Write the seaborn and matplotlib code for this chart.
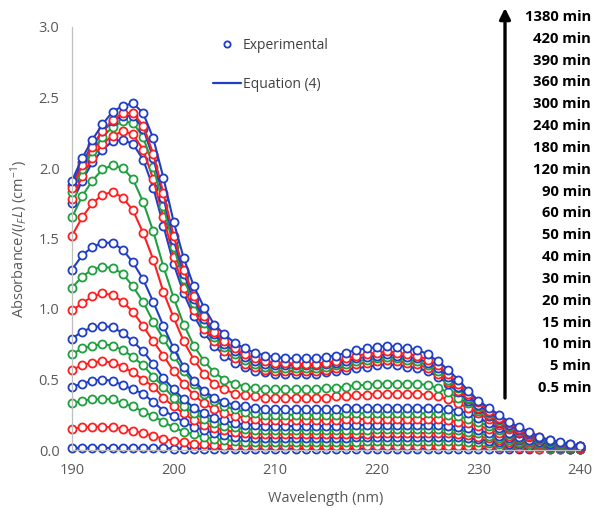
import numpy as np
import pandas as pd
import matplotlib
matplotlib.use("Agg")
import matplotlib.pyplot as plt
from matplotlib.lines import Line2D
import seaborn as sns

# ---------------- data ----------------
WAVELENGTH = np.arange(190, 241)  # nm, 1 nm steps

A_1380 = [1.91, 2.07, 2.20, 2.31, 2.40, 2.44, 2.46, 2.39, 2.21, 1.93,
          1.62, 1.36, 1.16, 1.01, 0.89, 0.82, 0.76, 0.72, 0.69, 0.67,
          0.66, 0.65, 0.65, 0.65, 0.65, 0.66, 0.67, 0.69, 0.71, 0.72,
          0.73, 0.74, 0.73, 0.72, 0.71, 0.68, 0.63, 0.57, 0.50, 0.42,
          0.35, 0.30, 0.25, 0.20, 0.16, 0.13, 0.095, 0.07, 0.055, 0.04,
          0.03]
A_420 = [1.86, 2.02, 2.15, 2.26, 2.34, 2.39, 2.39, 2.30, 2.10, 1.82,
         1.52, 1.28, 1.09, 0.95, 0.84, 0.77, 0.72, 0.68, 0.65, 0.63,
         0.62, 0.62, 0.61, 0.61, 0.61, 0.62, 0.63, 0.65, 0.67, 0.68,
         0.69, 0.70, 0.69, 0.68, 0.67, 0.64, 0.60, 0.54, 0.47, 0.40,
         0.34, 0.28, 0.23, 0.19, 0.15, 0.12, 0.09, 0.07, 0.05, 0.04,
         0.03]
A_390 = [1.88, 2.04, 2.16, 2.26, 2.33, 2.37, 2.37, 2.28, 2.07, 1.79,
         1.49, 1.25, 1.07, 0.93, 0.82, 0.75, 0.70, 0.66, 0.63, 0.61,
         0.60, 0.60, 0.60, 0.60, 0.60, 0.61, 0.62, 0.63, 0.65, 0.66,
         0.67, 0.68, 0.67, 0.66, 0.65, 0.62, 0.58, 0.52, 0.45, 0.38,
         0.32, 0.27, 0.22, 0.18, 0.14, 0.11, 0.085, 0.065, 0.05, 0.035,
         0.025]
A_360 = [1.83, 1.99, 2.12, 2.22, 2.29, 2.33, 2.32, 2.22, 2.01, 1.73,
         1.44, 1.21, 1.04, 0.90, 0.80, 0.73, 0.68, 0.64, 0.61, 0.59,
         0.58, 0.58, 0.58, 0.58, 0.58, 0.59, 0.60, 0.61, 0.63, 0.64,
         0.65, 0.66, 0.65, 0.64, 0.63, 0.60, 0.56, 0.50, 0.44, 0.37,
         0.31, 0.26, 0.21, 0.17, 0.14, 0.11, 0.08, 0.06, 0.045, 0.035,
         0.025]
A_300 = [1.78, 1.94, 2.07, 2.17, 2.23, 2.26, 2.24, 2.13, 1.92, 1.65,
         1.37, 1.15, 0.99, 0.86, 0.77, 0.70, 0.65, 0.61, 0.59, 0.57,
         0.56, 0.56, 0.56, 0.56, 0.56, 0.57, 0.58, 0.59, 0.61, 0.62,
         0.63, 0.64, 0.63, 0.62, 0.61, 0.58, 0.54, 0.48, 0.42, 0.36,
         0.30, 0.25, 0.20, 0.16, 0.13, 0.10, 0.08, 0.06, 0.045, 0.03,
         0.02]
A_240 = [1.75, 1.91, 2.04, 2.13, 2.19, 2.20, 2.17, 2.06, 1.86, 1.59,
         1.32, 1.11, 0.95, 0.83, 0.74, 0.67, 0.62, 0.59, 0.56, 0.55,
         0.54, 0.54, 0.54, 0.54, 0.54, 0.55, 0.56, 0.57, 0.58, 0.59,
         0.60, 0.61, 0.60, 0.59, 0.58, 0.56, 0.52, 0.47, 0.41, 0.35,
         0.29, 0.24, 0.19, 0.16, 0.12, 0.10, 0.075, 0.055, 0.04, 0.03,
         0.02]
A_180 = [1.65, 1.80, 1.91, 1.99, 2.02, 2.00, 1.92, 1.76, 1.55, 1.30,
         1.08, 0.89, 0.74, 0.63, 0.55, 0.50, 0.47, 0.45, 0.44, 0.43,
         0.43, 0.43, 0.43, 0.43, 0.43, 0.44, 0.44, 0.45, 0.46, 0.46,
         0.47, 0.47, 0.47, 0.47, 0.47, 0.46, 0.44, 0.41, 0.37, 0.33,
         0.28, 0.24, 0.20, 0.16, 0.13, 0.10, 0.08, 0.06, 0.045, 0.035,
         0.025]
A_120 = [1.52, 1.65, 1.75, 1.81, 1.83, 1.79, 1.70, 1.54, 1.35, 1.12,
         0.94, 0.77, 0.64, 0.54, 0.47, 0.43, 0.40, 0.39, 0.38, 0.37,
         0.37, 0.37, 0.37, 0.37, 0.37, 0.37, 0.38, 0.38, 0.39, 0.39,
         0.40, 0.40, 0.40, 0.40, 0.40, 0.39, 0.38, 0.36, 0.33, 0.30,
         0.26, 0.22, 0.18, 0.15, 0.12, 0.09, 0.07, 0.055, 0.04, 0.03,
         0.02]
A_90 = [1.28, 1.38, 1.44, 1.47, 1.47, 1.42, 1.33, 1.21, 1.05, 0.88,
        0.72, 0.59, 0.49, 0.42, 0.37, 0.34, 0.32, 0.31, 0.30, 0.29,
        0.29, 0.29, 0.29, 0.29, 0.29, 0.29, 0.29, 0.30, 0.30, 0.30,
        0.30, 0.30, 0.30, 0.30, 0.30, 0.30, 0.30, 0.29, 0.28, 0.26,
        0.23, 0.19, 0.155, 0.12, 0.095, 0.07, 0.055, 0.045, 0.035, 0.025,
        0.02]
A_60 = [1.15, 1.23, 1.28, 1.30, 1.29, 1.25, 1.16, 1.05, 0.91, 0.79,
        0.67, 0.56, 0.47, 0.40, 0.35, 0.31, 0.29, 0.27, 0.26, 0.25,
        0.25, 0.25, 0.25, 0.25, 0.25, 0.25, 0.25, 0.26, 0.26, 0.26,
        0.26, 0.26, 0.26, 0.26, 0.26, 0.26, 0.26, 0.25, 0.24, 0.22,
        0.20, 0.17, 0.14, 0.11, 0.085, 0.065, 0.05, 0.04, 0.03, 0.025,
        0.02]
A_50 = [0.99, 1.04, 1.09, 1.11, 1.10, 1.05, 0.98, 0.88, 0.77, 0.67,
        0.56, 0.47, 0.39, 0.33, 0.29, 0.26, 0.24, 0.23, 0.22, 0.21,
        0.21, 0.21, 0.21, 0.21, 0.21, 0.21, 0.21, 0.22, 0.22, 0.22,
        0.22, 0.22, 0.22, 0.22, 0.22, 0.22, 0.22, 0.21, 0.20, 0.19,
        0.17, 0.15, 0.12, 0.10, 0.075, 0.06, 0.045, 0.035, 0.03, 0.02,
        0.015]
A_40 = [0.79, 0.84, 0.87, 0.88, 0.87, 0.83, 0.77, 0.70, 0.61, 0.51,
        0.43, 0.36, 0.30, 0.26, 0.23, 0.21, 0.19, 0.18, 0.18, 0.17,
        0.17, 0.17, 0.17, 0.17, 0.17, 0.17, 0.17, 0.175, 0.175, 0.18,
        0.18, 0.18, 0.18, 0.18, 0.18, 0.18, 0.18, 0.17, 0.165, 0.155,
        0.14, 0.12, 0.10, 0.085, 0.07, 0.055, 0.04, 0.03, 0.025, 0.02,
        0.015]
A_30 = [0.68, 0.72, 0.74, 0.75, 0.74, 0.71, 0.66, 0.60, 0.52, 0.45,
        0.37, 0.31, 0.26, 0.22, 0.19, 0.17, 0.16, 0.15, 0.145, 0.14,
        0.14, 0.14, 0.14, 0.14, 0.14, 0.14, 0.14, 0.145, 0.145, 0.145,
        0.15, 0.15, 0.15, 0.15, 0.15, 0.15, 0.15, 0.145, 0.14, 0.13,
        0.12, 0.10, 0.085, 0.07, 0.06, 0.045, 0.035, 0.03, 0.02, 0.015,
        0.01]
A_20 = [0.57, 0.60, 0.62, 0.63, 0.62, 0.59, 0.55, 0.50, 0.45, 0.37,
        0.31, 0.26, 0.21, 0.18, 0.155, 0.14, 0.13, 0.12, 0.115, 0.11,
        0.11, 0.11, 0.11, 0.11, 0.11, 0.11, 0.11, 0.115, 0.115, 0.115,
        0.12, 0.12, 0.12, 0.12, 0.12, 0.12, 0.12, 0.12, 0.115, 0.105,
        0.095, 0.085, 0.07, 0.06, 0.05, 0.04, 0.03, 0.025, 0.02, 0.015,
        0.01]
A_15 = [0.45, 0.47, 0.49, 0.50, 0.49, 0.46, 0.43, 0.40, 0.34, 0.28,
        0.24, 0.20, 0.165, 0.14, 0.12, 0.105, 0.095, 0.09, 0.085, 0.085,
        0.085, 0.085, 0.085, 0.085, 0.085, 0.085, 0.085, 0.085, 0.09, 0.09,
        0.09, 0.09, 0.09, 0.09, 0.09, 0.09, 0.09, 0.09, 0.09, 0.085,
        0.075, 0.065, 0.055, 0.045, 0.04, 0.03, 0.025, 0.02, 0.015, 0.01,
        0.01]
A_10 = [0.33, 0.35, 0.36, 0.36, 0.36, 0.33, 0.31, 0.27, 0.24, 0.20,
        0.16, 0.13, 0.11, 0.09, 0.08, 0.07, 0.065, 0.06, 0.06, 0.06,
        0.06, 0.06, 0.06, 0.06, 0.06, 0.06, 0.06, 0.06, 0.06, 0.065,
        0.065, 0.065, 0.065, 0.065, 0.065, 0.065, 0.065, 0.065, 0.065, 0.06,
        0.055, 0.05, 0.04, 0.035, 0.03, 0.025, 0.02, 0.015, 0.01, 0.01,
        0.005]
A_5 = [0.15, 0.16, 0.165, 0.165, 0.16, 0.15, 0.135, 0.12, 0.10, 0.08,
       0.065, 0.055, 0.045, 0.04, 0.035, 0.03, 0.03, 0.03, 0.03, 0.03,
       0.03, 0.03, 0.03, 0.03, 0.03, 0.03, 0.03, 0.03, 0.03, 0.03,
       0.03, 0.03, 0.03, 0.03, 0.03, 0.03, 0.03, 0.03, 0.03, 0.03,
       0.025, 0.025, 0.02, 0.02, 0.015, 0.015, 0.01, 0.01, 0.01, 0.005,
       0.005]
A_05 = [0.015, 0.015, 0.015, 0.015, 0.015, 0.015, 0.015, 0.015, 0.015, 0.015,
        0.01, 0.01, 0.01, 0.01, 0.01, 0.01, 0.01, 0.01, 0.01, 0.01,
        0.01, 0.01, 0.01, 0.01, 0.01, 0.01, 0.01, 0.01, 0.01, 0.01,
        0.01, 0.01, 0.01, 0.01, 0.01, 0.01, 0.01, 0.01, 0.01, 0.01,
        0.01, 0.01, 0.01, 0.005, 0.005, 0.005, 0.005, 0.005, 0.005, 0.005,
        0.005]

TIME_LABELS = ["0.5 min", "5 min", "10 min", "15 min", "20 min", "30 min",
               "40 min", "50 min", "60 min", "90 min", "120 min", "180 min",
               "240 min", "300 min", "360 min", "390 min", "420 min", "1380 min"]
SERIES = [A_05, A_5, A_10, A_15, A_20, A_30, A_40, A_50, A_60, A_90,
          A_120, A_180, A_240, A_300, A_360, A_390, A_420, A_1380]

BLUE, RED, GREEN = "#1f3fc4", "#ff1f1f", "#1fa040"
COLORS = [BLUE, RED, GREEN, BLUE, RED, GREEN, BLUE, RED, GREEN, BLUE,
          RED, GREEN, BLUE, RED, GREEN, BLUE, RED, BLUE]

# ---------------- style ----------------
sns.set_style("white")
plt.rcParams["font.family"] = ["Open Sans", "DejaVu Sans"]
plt.rcParams["mathtext.fontset"] = "custom"
plt.rcParams["mathtext.rm"] = "Open Sans"
plt.rcParams["mathtext.it"] = "Open Sans:italic"

GRAY_TXT = "#595959"
GRAY_AX = "#bfbfbf"

fig = plt.figure(figsize=(5.95, 5.08), dpi=100)
ax = fig.add_axes([72 / 595, 1 - 450 / 508, (580 - 72) / 595, (450 - 27) / 508])

for lab, vals, col in zip(TIME_LABELS, SERIES, COLORS):
    df = pd.DataFrame({"Wavelength": WAVELENGTH, "Absorbance": vals})
    sns.lineplot(data=df, x="Wavelength", y="Absorbance", ax=ax, color=col,
                 lw=1.5, marker="o", markersize=5.8, markerfacecolor="white",
                 markeredgecolor=col, markeredgewidth=1.3, clip_on=False,
                 legend=False)

ax.set_xlim(190, 240)
ax.set_ylim(0, 3.0)
ax.set_xticks([190, 200, 210, 220, 230, 240])
ax.set_yticks([0.0, 0.5, 1.0, 1.5, 2.0, 2.5, 3.0])
ax.set_yticklabels(["0.0", "0.5", "1.0", "1.5", "2.0", "2.5", "3.0"])
ax.tick_params(axis="both", labelsize=10.5, colors=GRAY_TXT, length=4,
               width=0.8, direction="out", pad=5)
ax.tick_params(axis="both", color=GRAY_AX)
for s in ["top", "right"]:
    ax.spines[s].set_visible(False)
for s in ["left", "bottom"]:
    ax.spines[s].set_color(GRAY_AX)
    ax.spines[s].set_linewidth(0.9)

ax.set_xlabel("Wavelength (nm)", fontsize=10.5, color=GRAY_TXT, labelpad=10)
ax.set_ylabel(r"Absorbance/($\mathit{I}_{\mathit{F}}\mathit{L}$) (cm$^{-1}$)",
              fontsize=10.5, color=GRAY_TXT, labelpad=6)

handles = [Line2D([], [], ls="none", marker="o", ms=4.5, mfc="white",
                  mec=BLUE, mew=1.3),
           Line2D([], [], color=BLUE, lw=1.6)]
leg = ax.legend(handles, ["Experimental", "Equation (4)"], loc="upper left",
                bbox_to_anchor=((213 - 72) / 508, (450 - 38) / 423),
                frameon=False, fontsize=10, handlelength=2.0,
                handletextpad=0.15, labelspacing=1.75, borderpad=0,
                borderaxespad=0)
for t in leg.get_texts():
    t.set_color("#404040")

# time labels on the right, top = latest
y_top, y_bot = 17, 388
n = len(TIME_LABELS)
for i, lab in enumerate(TIME_LABELS[::-1]):
    ypix = y_top + i * (y_bot - y_top) / (n - 1)
    fig.text(591 / 595, 1 - ypix / 508, lab, ha="right", va="center",
             fontsize=10.6, fontweight="bold", color="black")

ax.annotate("", xy=(505 / 595, 1 - 8 / 508), xytext=(505 / 595, 1 - 398 / 508),
            xycoords="figure fraction", textcoords="figure fraction",
            arrowprops=dict(arrowstyle="-|>", lw=2.4, color="black",
                            mutation_scale=16, shrinkA=0, shrinkB=0))

fig.savefig("out.png", dpi=100)
